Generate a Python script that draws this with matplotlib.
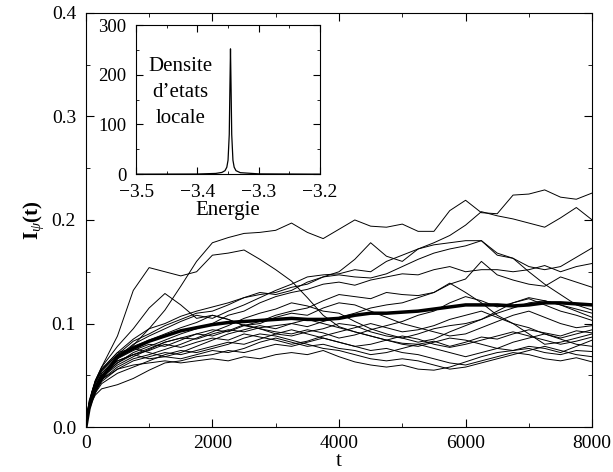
import numpy as np
import matplotlib
matplotlib.use("Agg")
import matplotlib.pyplot as plt
from matplotlib.ticker import MultipleLocator, FormatStrFormatter, FuncFormatter

plt.rcParams['font.family'] = ['Liberation Serif', 'DejaVu Serif']
plt.rcParams['mathtext.fontset'] = 'custom'
plt.rcParams['mathtext.rm'] = 'Liberation Serif'
plt.rcParams['mathtext.it'] = 'Liberation Serif:italic'
plt.rcParams['mathtext.bf'] = 'Liberation Serif:bold'

# time grid of the sampled curves
t = [0, 50, 100, 150] + list(range(250, 8001, 250))

# thick curve (average)
mean_curve = [0, 0.018, 0.028, 0.036,
              0.047, 0.068, 0.076, 0.083, 0.088, 0.093, 0.096, 0.099, 0.101, 0.102,
              0.103, 0.104, 0.105, 0.104, 0.104, 0.105, 0.108, 0.110, 0.110, 0.111,
              0.112, 0.114, 0.116, 0.118, 0.118, 0.118, 0.117, 0.118, 0.120, 0.120,
              0.119, 0.118]

# individual states (thin curves)
curves = [
    [0, 0.020, 0.030, 0.038,
     0.050, 0.066, 0.079, 0.095, 0.113, 0.136, 0.160, 0.178, 0.183, 0.187,
     0.188, 0.190, 0.197, 0.188, 0.182, 0.191, 0.200, 0.194, 0.193, 0.196,
     0.189, 0.189, 0.209, 0.219, 0.207, 0.206, 0.224, 0.225, 0.229, 0.222,
     0.220, 0.226],
    [0, 0.025, 0.035, 0.045,
     0.058, 0.088, 0.132, 0.154, 0.150, 0.146, 0.150, 0.166, 0.168, 0.171,
     0.162, 0.152, 0.141, 0.125, 0.108, 0.097, 0.092, 0.088, 0.084, 0.081,
     0.080, 0.083, 0.078, 0.082, 0.087, 0.085, 0.090, 0.094, 0.091, 0.088,
     0.093, 0.091],
    [0, 0.021, 0.032, 0.040,
     0.052, 0.068, 0.080, 0.088, 0.095, 0.102, 0.108, 0.105, 0.112, 0.118,
     0.125, 0.132, 0.138, 0.145, 0.147, 0.148, 0.152, 0.150, 0.160, 0.166,
     0.172, 0.178, 0.185, 0.195, 0.208, 0.204, 0.201, 0.197, 0.193, 0.202,
     0.212, 0.200],
    [0, 0.022, 0.034, 0.043,
     0.055, 0.070, 0.083, 0.090, 0.098, 0.104, 0.110, 0.112, 0.118, 0.125,
     0.128, 0.130, 0.135, 0.138, 0.145, 0.150, 0.162, 0.178, 0.165, 0.160,
     0.172, 0.176, 0.178, 0.180, 0.180, 0.166, 0.163, 0.155, 0.152, 0.155,
     0.164, 0.173],
    [0, 0.019, 0.029, 0.037,
     0.048, 0.062, 0.072, 0.078, 0.084, 0.090, 0.095, 0.100, 0.108, 0.112,
     0.120, 0.126, 0.130, 0.133, 0.138, 0.140, 0.137, 0.142, 0.145, 0.148,
     0.147, 0.152, 0.155, 0.150, 0.152, 0.152, 0.150, 0.152, 0.156, 0.150,
     0.155, 0.158],
    [0, 0.020, 0.031, 0.039,
     0.050, 0.064, 0.070, 0.076, 0.082, 0.086, 0.090, 0.094, 0.092, 0.098,
     0.102, 0.108, 0.112, 0.115, 0.122, 0.128, 0.126, 0.124, 0.130, 0.128,
     0.127, 0.130, 0.138, 0.143, 0.160, 0.147, 0.142, 0.138, 0.136, 0.145,
     0.140, 0.135],
    [0, 0.022, 0.034, 0.044,
     0.056, 0.072, 0.085, 0.095, 0.100, 0.107, 0.112, 0.116, 0.120, 0.125,
     0.130, 0.128, 0.132, 0.140, 0.145, 0.147, 0.145, 0.144, 0.148, 0.155,
     0.162, 0.168, 0.172, 0.175, 0.180, 0.168, 0.163, 0.150, 0.138, 0.128,
     0.118, 0.113],
    [0, 0.023, 0.035, 0.045,
     0.058, 0.078, 0.095, 0.115, 0.129, 0.118, 0.105, 0.108, 0.104, 0.098,
     0.095, 0.090, 0.088, 0.092, 0.095, 0.100, 0.098, 0.092, 0.088, 0.086,
     0.090, 0.095, 0.098, 0.100, 0.104, 0.110, 0.115, 0.120, 0.122, 0.118,
     0.112, 0.106],
    [0, 0.019, 0.029, 0.037,
     0.048, 0.060, 0.068, 0.075, 0.082, 0.086, 0.085, 0.090, 0.094, 0.092,
     0.096, 0.098, 0.100, 0.097, 0.102, 0.106, 0.110, 0.115, 0.118, 0.120,
     0.125, 0.130, 0.139, 0.130, 0.120, 0.108, 0.100, 0.090, 0.080, 0.082,
     0.086, 0.090],
    [0, 0.020, 0.031, 0.040,
     0.052, 0.066, 0.074, 0.080, 0.078, 0.084, 0.090, 0.088, 0.093, 0.099,
     0.095, 0.092, 0.090, 0.094, 0.091, 0.086, 0.089, 0.094, 0.098, 0.102,
     0.108, 0.112, 0.120, 0.126, 0.122, 0.116, 0.120, 0.125, 0.122, 0.118,
     0.114, 0.110],
    [0, 0.018, 0.028, 0.036,
     0.046, 0.058, 0.066, 0.070, 0.075, 0.080, 0.086, 0.092, 0.098, 0.105,
     0.110, 0.114, 0.120, 0.117, 0.112, 0.110, 0.102, 0.095, 0.090, 0.086,
     0.082, 0.085, 0.092, 0.098, 0.104, 0.112, 0.120, 0.124, 0.118, 0.112,
     0.108, 0.103],
    [0, 0.021, 0.033, 0.042,
     0.054, 0.070, 0.078, 0.084, 0.090, 0.096, 0.101, 0.108, 0.104, 0.098,
     0.100, 0.106, 0.110, 0.108, 0.115, 0.120, 0.118, 0.112, 0.106, 0.100,
     0.096, 0.092, 0.088, 0.090, 0.096, 0.102, 0.108, 0.112, 0.106, 0.100,
     0.096, 0.098],
    [0, 0.020, 0.031, 0.039,
     0.050, 0.062, 0.070, 0.074, 0.080, 0.077, 0.082, 0.086, 0.084, 0.090,
     0.087, 0.084, 0.080, 0.083, 0.088, 0.092, 0.096, 0.100, 0.096, 0.092,
     0.094, 0.098, 0.104, 0.108, 0.112, 0.106, 0.100, 0.096, 0.090, 0.086,
     0.090, 0.094],
    [0, 0.017, 0.027, 0.035,
     0.044, 0.056, 0.064, 0.068, 0.072, 0.070, 0.074, 0.078, 0.082, 0.080,
     0.085, 0.090, 0.094, 0.090, 0.086, 0.082, 0.078, 0.080, 0.084, 0.088,
     0.085, 0.080, 0.077, 0.080, 0.084, 0.088, 0.092, 0.088, 0.084, 0.080,
     0.083, 0.087],
    [0, 0.022, 0.034, 0.044,
     0.056, 0.072, 0.076, 0.072, 0.068, 0.072, 0.078, 0.084, 0.090, 0.094,
     0.098, 0.095, 0.100, 0.104, 0.100, 0.096, 0.092, 0.088, 0.084, 0.080,
     0.078, 0.082, 0.086, 0.084, 0.080, 0.076, 0.074, 0.078, 0.076, 0.072,
     0.078, 0.084],
    [0, 0.020, 0.031, 0.039,
     0.050, 0.064, 0.070, 0.066, 0.068, 0.066, 0.070, 0.074, 0.072, 0.076,
     0.082, 0.086, 0.082, 0.078, 0.080, 0.076, 0.074, 0.070, 0.072, 0.076,
     0.080, 0.076, 0.072, 0.068, 0.072, 0.076, 0.082, 0.086, 0.090, 0.085,
     0.080, 0.078],
    [0, 0.018, 0.028, 0.036,
     0.046, 0.056, 0.060, 0.062, 0.064, 0.062, 0.064, 0.066, 0.064, 0.068,
     0.066, 0.070, 0.072, 0.070, 0.074, 0.068, 0.063, 0.060, 0.058, 0.060,
     0.056, 0.055, 0.058, 0.063, 0.068, 0.072, 0.074, 0.076, 0.072, 0.070,
     0.074, 0.073],
    [0, 0.017, 0.026, 0.033,
     0.042, 0.052, 0.058, 0.064, 0.070, 0.074, 0.072, 0.076, 0.080, 0.086,
     0.090, 0.088, 0.084, 0.080, 0.076, 0.074, 0.070, 0.066, 0.064, 0.066,
     0.064, 0.060, 0.056, 0.058, 0.062, 0.066, 0.070, 0.074, 0.078, 0.074,
     0.070, 0.068],
    [0, 0.016, 0.025, 0.031,
     0.037, 0.041, 0.047, 0.055, 0.062, 0.064, 0.068, 0.070, 0.074, 0.072,
     0.076, 0.080, 0.078, 0.082, 0.086, 0.082, 0.078, 0.074, 0.076, 0.072,
     0.070, 0.066, 0.062, 0.060, 0.064, 0.068, 0.072, 0.070, 0.066, 0.064,
     0.067, 0.063],
]

# inset: local density of states
energy = [-3.50, -3.40, -3.37, -3.36, -3.355, -3.352, -3.350, -3.348, -3.347,
          -3.346, -3.345, -3.344, -3.342, -3.340, -3.337, -3.33, -3.30, -3.20]
density = [0, 0.3, 1.5, 3.5, 7, 14, 28, 80, 170, 252, 170, 80, 28, 14, 7, 3, 0.6, 0]

fig = plt.figure(figsize=(6.13, 4.72), dpi=100)
ax = fig.add_axes([0.140, 0.095, 0.826, 0.878])

for c in curves:
    ax.plot(t, c, color='black', lw=0.7)
ax.plot(t, mean_curve, color='black', lw=2.5)

ax.set_xlim(0, 8000)
ax.set_ylim(0, 0.4)
ax.xaxis.set_major_locator(MultipleLocator(2000))
ax.xaxis.set_minor_locator(MultipleLocator(1000))
ax.yaxis.set_major_locator(MultipleLocator(0.1))
ax.yaxis.set_minor_locator(MultipleLocator(0.05))
ax.yaxis.set_major_formatter(FormatStrFormatter('%.1f'))
ax.tick_params(which='both', direction='in', top=True, right=True, labelsize=14)
ax.tick_params(which='major', length=6)
ax.tick_params(which='minor', length=3)
ax.tick_params(axis='x', which='major', pad=6)
ax.tick_params(axis='y', which='major', pad=7)
ax.set_xlabel('t', fontsize=15, labelpad=0)
ax.set_ylabel(r'$\mathbf{I}_{\psi}\mathbf{(t)}$', fontsize=15, labelpad=4)

# inset
ins = fig.add_axes([0.222, 0.631, 0.300, 0.316])
ins.plot(energy, density, color='black', lw=0.9)
ins.set_xlim(-3.5, -3.2)
ins.set_ylim(0, 300)
ins.xaxis.set_major_locator(MultipleLocator(0.1))
ins.xaxis.set_minor_locator(MultipleLocator(0.05))
ins.yaxis.set_major_locator(MultipleLocator(100))
ins.yaxis.set_minor_locator(MultipleLocator(50))
ins.xaxis.set_major_formatter(FuncFormatter(lambda v, p: ('%.1f' % v).replace('-', '\u2212')))
ins.tick_params(which='both', direction='in', top=True, right=True)
ins.tick_params(which='major', length=5)
ins.tick_params(which='minor', length=2.5)
ins.tick_params(axis='x', which='major', pad=7, labelsize=14)
ins.tick_params(axis='y', which='major', pad=7, labelsize=13.5)
ins.set_xlabel('Energie', fontsize=15, labelpad=0)
ins.text(0.24, 0.55, "Densite\nd\u2019etats\nlocale", transform=ins.transAxes,
         ha='center', va='center', fontsize=15, linespacing=1.5)

fig.savefig('out.png', dpi=100)
